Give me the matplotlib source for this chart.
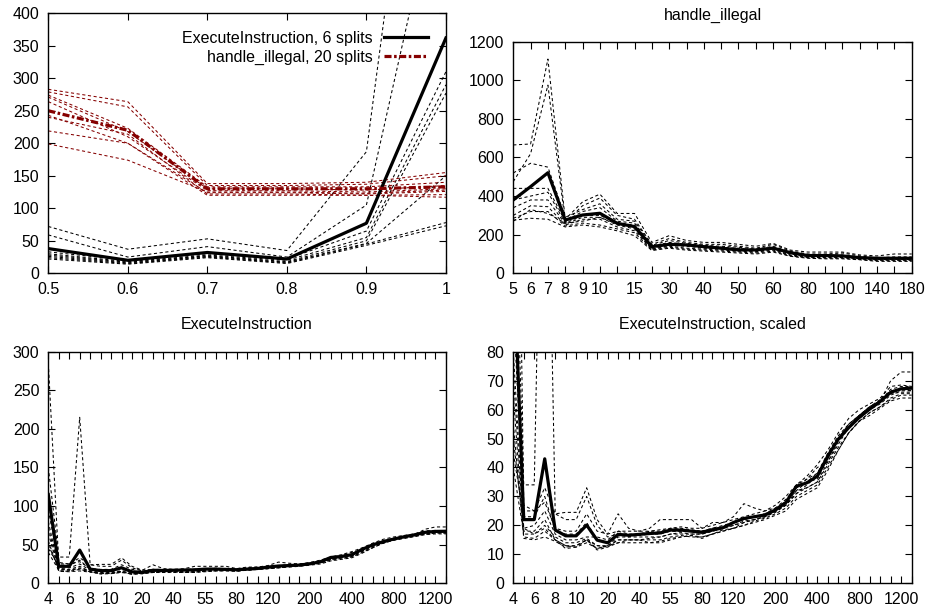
import numpy as np
import matplotlib
matplotlib.use('Agg')
import matplotlib.pyplot as plt

plt.rcParams['font.family'] = ['Liberation Sans', 'DejaVu Sans']
plt.rcParams['font.size'] = 11.5

# ---- split ratio sweep (top left)
ratio = [0.5, 0.6, 0.7, 0.8, 0.9, 1.0]
exec_ratio_mean = [38, 20, 32, 22, 77, 362]
exec_ratio_runs = [
    [72, 37, 53, 35, 187, 1110],
    [59, 25, 41, 25, 105, 650],
    [33, 20, 30, 22, 65, 310],
    [30, 18, 28, 20, 55, 290],
    [28, 17, 27, 18, 50, 277],
    [26, 16, 26, 17, 46, 150],
    [24, 15, 25, 16, 45, 78],
    [22, 14, 24, 15, 43, 73],
]
illegal_ratio_mean = [250, 220, 130, 130, 130, 133]
illegal_ratio_runs = [
    [283, 264, 138, 138, 140, 155],
    [279, 256, 135, 135, 137, 150],
    [274, 223, 133, 133, 133, 140],
    [271, 218, 130, 130, 128, 135],
    [264, 210, 127, 127, 125, 130],
    [243, 200, 124, 124, 122, 126],
    [240, 214, 122, 122, 120, 121],
    [219, 200, 120, 120, 120, 117],
    [199, 174, 125, 125, 123, 128],
]

# ---- handle_illegal (top right)
illegal_labels = ['5', '6', '7', '8', '9', '10', '', '15', '', '30', '', '40',
                  '', '50', '', '60', '', '80', '', '100', '', '140', '', '180']
illegal_mean = [380, 449, 521, 276, 302, 311, 259, 242, 138, 150, 147, 138,
                130, 121, 121, 130, 107, 92, 92, 90, 81, 78, 78, 78]
illegal_runs = [
    [665, 670, 1110, 280, 370, 410, 310, 310, 160, 195, 170, 160, 160, 150, 140, 155, 120, 110, 110, 110, 95, 90, 100, 100],
    [475, 620, 975, 265, 350, 390, 300, 280, 150, 180, 160, 150, 150, 140, 130, 150, 115, 100, 100, 105, 90, 80, 85, 85],
    [520, 570, 550, 290, 330, 360, 280, 270, 145, 170, 155, 145, 140, 135, 125, 140, 110, 95, 95, 95, 85, 78, 80, 80],
    [440, 440, 440, 270, 320, 340, 270, 260, 140, 160, 150, 140, 135, 130, 120, 135, 105, 92, 90, 90, 82, 75, 76, 76],
    [380, 400, 420, 260, 300, 300, 260, 250, 130, 150, 145, 135, 130, 125, 118, 130, 100, 88, 88, 88, 80, 72, 72, 72],
    [340, 380, 380, 255, 290, 290, 250, 230, 125, 145, 140, 130, 125, 120, 112, 125, 95, 85, 85, 85, 78, 70, 70, 70],
    [300, 350, 345, 250, 280, 280, 240, 220, 125, 140, 130, 125, 120, 115, 110, 120, 92, 82, 82, 82, 75, 68, 68, 68],
    [285, 320, 320, 245, 260, 250, 230, 210, 120, 135, 125, 120, 115, 110, 105, 115, 90, 80, 78, 78, 72, 65, 65, 65],
    [275, 285, 280, 240, 250, 240, 220, 195, 118, 130, 120, 115, 110, 105, 100, 110, 88, 78, 75, 75, 70, 62, 62, 62],
    [270, 330, 310, 260, 270, 290, 255, 240, 135, 155, 145, 138, 130, 128, 122, 135, 105, 90, 90, 90, 80, 74, 74, 74],
]

# ---- ExecuteInstruction (bottom row, same data, two y ranges)
exec_labels = ['4', '', '6', '', '8', '', '10', '', '', '20', '', '', '40', '',
               '', '55', '', '', '80', '', '', '120', '', '', '', '200', '', '',
               '', '400', '', '', '', '800', '', '', '', '1200', '']
exec_mean = [115, 22, 22, 43, 18.4, 16.4, 16.4, 20.1, 14.9, 14, 16.9, 16.6, 16.9,
             17.2, 17.4, 18.4, 18.4, 18, 17.6, 18.4, 19.2, 21, 22.4, 23, 23.6,
             25.3, 27.9, 33.5, 34.7, 37, 44, 49.8, 53.8, 57.3, 60.2, 62.8, 66,
             67.2, 67.4]
exec_runs = [
    [285, 27, 25, 33, 24, 24.5, 24.5, 33, 22, 17, 18, 17, 17, 18, 18.5, 19, 19, 18.5, 18, 19, 20, 21, 22.5, 23, 24, 26, 28, 32, 35, 38, 44, 50, 54, 58, 61, 63, 66, 67, 67],
    [150, 34, 34, 215, 24, 22, 22, 30, 20, 16, 17, 16, 17, 17, 17.5, 18, 18, 18, 18, 19, 19.5, 21, 22, 23, 23.5, 25, 27, 31, 34, 37, 43, 50, 55, 58, 61, 63.5, 66.5, 67, 66.5],
    [95, 25, 25, 28, 19, 18, 18, 24, 18, 17, 24, 19, 18, 19, 22, 22, 22, 22, 19, 21, 21, 23, 27.5, 26, 25, 26, 29, 33, 36, 40, 42, 48, 54, 57, 60, 63, 70, 73, 73],
    [80, 19, 20, 25, 17, 15, 15, 16, 16, 15, 18, 18, 18, 18, 18, 19, 19.5, 19, 19, 20, 21, 22, 23, 24, 25, 27, 30, 34, 37, 41, 46, 52, 57, 60, 62, 64, 68, 68.5, 68],
    [72, 18, 18, 22, 15, 13, 13, 15, 13, 12.5, 15, 15, 15, 15.5, 16, 17, 17, 17, 17, 18, 19, 20, 21, 22, 23, 25, 27, 31, 33, 35, 41, 47, 52, 56, 59, 61, 64, 65.5, 65.5],
    [65, 16, 15.5, 18, 15, 12, 12.5, 14, 12, 13, 14, 14, 14, 14, 14.5, 15.5, 16, 16.5, 16, 17, 18, 19, 20, 21.5, 22.5, 24, 26, 30, 32, 34, 40, 46, 52, 56, 59, 61, 63.5, 65, 65],
    [55, 15.5, 15, 16, 14.5, 12.5, 13, 15, 11.5, 12.5, 14, 15, 15, 14, 14, 15, 16, 16.5, 15.5, 17, 18, 19, 20, 21, 22, 23.5, 25, 29, 31, 33, 39, 46, 52, 56, 58, 60.5, 63, 64, 64],
    [50, 19, 17, 20, 16, 14, 14, 15.5, 13, 13, 16, 16, 16, 16, 16, 17, 17.5, 17, 17, 18, 19, 20, 21.5, 22, 23, 25, 28, 33, 35, 36, 43, 50, 55, 58, 61, 63, 65.5, 66, 66],
    [45, 23, 23, 30, 18, 17, 17, 21, 15, 14, 16.5, 16.5, 16.5, 17, 17, 18, 18, 18, 18, 19, 19.5, 21, 22, 23, 24, 25.5, 28.5, 34, 36, 38, 45, 51, 55, 58, 61, 63, 67, 68, 68],
    [40, 17, 17, 19, 15, 13, 12.5, 15, 12, 13, 15, 15, 15, 15, 15, 16, 16.5, 16, 16, 17, 18.5, 19, 21, 22, 23, 24.5, 27, 32, 33, 35, 42, 49, 54, 57, 60, 62, 65, 66.5, 66.5],
]

RED = '#850000'
run_style = dict(lw=0.75, ls=(0, (3, 2.5)))


def frame(ax, ymax, ystep):
    ax.set_ylim(0, ymax)
    ax.set_yticks(np.arange(0, ymax + 1, ystep))
    ax.tick_params(direction='in', top=True, right=True, length=5, width=0.8, pad=6.5)
    for s in ax.spines.values():
        s.set_linewidth(1.0)


def categorical(ax, labels):
    pos = np.arange(len(labels))
    ax.set_xticks(pos)
    ax.set_xticklabels(labels)
    ax.set_xlim(0, len(labels) - 1)
    return pos


fig = plt.figure(figsize=(9.29, 6.14), dpi=100)

# top left
ax = fig.add_axes([0.052, 0.5549, 0.428, 0.4235])
for run in exec_ratio_runs:
    ax.plot(ratio, run, color='black', **run_style)
for run in illegal_ratio_runs:
    ax.plot(ratio, run, color=RED, **run_style)
ax.plot(ratio, exec_ratio_mean, color='black', lw=2.3,
        label='ExecuteInstruction, 6 splits')
ax.plot(ratio, illegal_ratio_mean, color=RED, lw=2.3, ls=(0, (2.2, 0.8, 0.8, 0.8)),
        label='handle_illegal, 20 splits')
ax.set_xlim(0.5, 1.0)
ax.set_xticks(ratio)
ax.set_xticklabels(['0.5', '0.6', '0.7', '0.8', '0.9', '1'])
frame(ax, 400, 50)
ax.legend(loc='upper right', frameon=False, markerfirst=False, handlelength=2.8,
          handletextpad=0.7, labelspacing=0.25, borderaxespad=0.9,
          borderpad=0.2, fontsize=11.5)

# top right
ax = fig.add_axes([0.5525, 0.5549, 0.4289, 0.3772])
pos = categorical(ax, illegal_labels)
for run in illegal_runs:
    ax.plot(pos, run, color='black', **run_style)
ax.plot(pos, illegal_mean, color='black', lw=2.3)
frame(ax, 1200, 200)
ax.set_title('handle_illegal', fontsize=11.5, pad=16)

# bottom row
for left, ymax, ystep, title in [(0.052, 300, 50, 'ExecuteInstruction'),
                                 (0.5525, 80, 10, 'ExecuteInstruction, scaled')]:
    ax = fig.add_axes([left, 0.05, 0.428 if left < 0.5 else 0.4289, 0.3772])
    pos = categorical(ax, exec_labels)
    for run in exec_runs:
        ax.plot(pos, run, color='black', **run_style)
    ax.plot(pos, exec_mean, color='black', lw=2.3)
    frame(ax, ymax, ystep)
    ax.set_title(title, fontsize=11.5, pad=16)

fig.savefig('out.png', dpi=100)
